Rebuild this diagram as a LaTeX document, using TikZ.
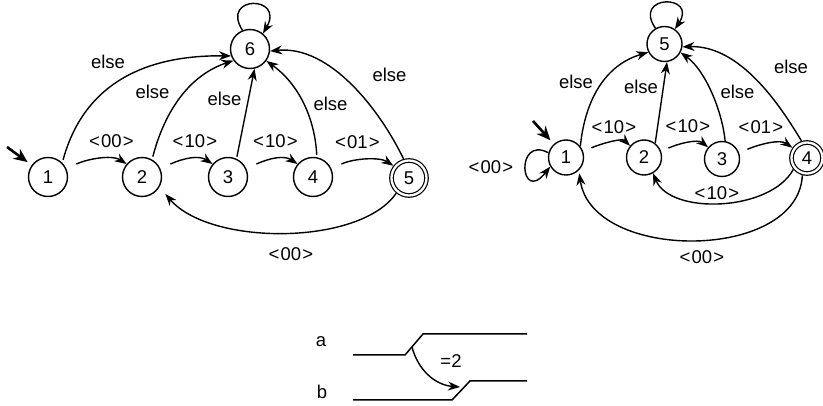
\documentclass[tikz,border=0pt]{standalone}
\usepackage{fontspec}
\setmainfont{Liberation Sans}
\usetikzlibrary{arrows.meta}
\begin{document}
\begin{tikzpicture}[x=1pt,y=-1pt,
  txt/.style={font=\fontsize{18.5}{20}\selectfont},
  state/.style={circle,draw,line width=1.4pt,minimum size=39pt,inner sep=0pt,txt},
  fstate/.style={state,line width=1.2pt,double,double distance=2.3pt,minimum size=35pt,outer sep=2.4pt},
  rstate/.style={state,minimum size=35pt},
  rfstate/.style={fstate,minimum size=31pt},
  lab/.style={txt,inner sep=0pt},
  arr/.style={line width=1.4pt,-{Stealth[length=12pt,width=9pt]}},
  init/.style={line width=2.6pt,-{Stealth[length=14pt,width=12pt]}},
  wave/.style={line width=1.5pt}
]
\path[use as bounding box,fill=white] (0,0) rectangle (823,406);

% ---------- left automaton ----------
\node[state]  (n1) at (48,177)  {1};
\node[state]  (n2) at (142,177) {2};
\node[state]  (n3) at (228,177) {3};
\node[state]  (n4) at (313,177) {4};
\node[fstate] (n5) at (409,178) {5};
\node[state]  (n6) at (250,49)  {6};

\coordinate (s1) at (7,147);
\draw[init,shorten >=5pt] (s1) -- (n1);

\draw[arr,shorten <=3pt] (n1.45) .. controls (85,80) and (150,55) .. (n6.200);
\draw[arr,shorten <=3pt] (n2.60) .. controls (165,110) and (190,75) .. (n6.215);
\draw[arr,shorten <=2pt] (n3.65) -- (n6.283);
\draw[arr,shorten <=2pt] (n4.79) .. controls (315,120) and (300,85) .. (n6.324);
\draw[arr] (n5.106) .. controls (380,110) and (330,45) .. (n6.354);
\draw[arr] (n6.112) .. controls (220,-5) and (285,-5) .. (n6.50);

\draw[arr,shorten <=11pt] (n1.25) .. controls (90,158) and (113,155) .. (n2.140);
\draw[arr,shorten <=11pt] (n2.25) .. controls (184,158) and (199,155) .. (n3.140);
\draw[arr,shorten <=11pt] (n3.25) .. controls (270,158) and (284,155) .. (n4.140);
\draw[arr,shorten <=11pt] (n4.25) .. controls (355,158) and (380,157) .. (n5.142);
\draw[arr,shorten >=9pt] (n5.230) .. controls (360,246) and (210,246) .. (n2.330);

\node[lab] (l1) at (108,62)    {else};
\node[lab] (l2) at (152.5,91.5){else};
\node[lab] (l3) at (224.5,98.5){else};
\node[lab] (l4) at (330.5,103.5){else};
\node[lab] (l5) at (389.5,75)  {else};
\node[lab] (l6) at (111.5,141) {<\kern1.2pt 00\kern1.2pt>};
\node[lab] (l7) at (195,141)   {<\kern1.2pt 10\kern1.2pt>};
\node[lab] (l8) at (275.5,141) {<\kern1.2pt 10\kern1.2pt>};
\node[lab] (l9) at (357.5,142.5){<\kern1.2pt 01\kern1.2pt>};
\node[lab] (l10) at (291,254)  {<\kern1.2pt 00\kern1.2pt>};

% ---------- right automaton ----------
\node[rstate]  (m1) at (566,157.5) {1};
\node[rstate]  (m2) at (644,157.5) {2};
\node[rstate]  (m3) at (722,159)   {3};
\node[rfstate] (m4) at (807,158)   {4};
\node[rstate]  (m5) at (664.5,44)  {5};

\coordinate (s2) at (533,121);
\draw[init,shorten >=5pt] (s2) -- (m1);

\draw[arr] (m1.38) .. controls (585,100) and (605,65) .. (m5.207);
\draw[arr] (m2.52) -- (m5.278);
\draw[arr] (m3.80) .. controls (722,110) and (705,70) .. (m5.332);
\draw[arr] (m4.108) .. controls (780,105) and (740,45) .. (m5.351);
\draw[arr] (m5.120) .. controls (632,-6) and (698,-6) .. (m5.55);
\draw[arr] (m1.165) .. controls (515,135) and (520,205) .. (m1.210);

\draw[arr,shorten <=9pt] (m1.20) .. controls (603,143) and (622,138) .. (m2.140);
\draw[arr,shorten <=8pt] (m2.20) .. controls (680,143) and (698,139) .. (m3.140);
\draw[arr,shorten <=9pt] (m3.20) .. controls (760,144) and (780,139) .. (m4.145);
\draw[arr] (m4.220) .. controls (770,212) and (670,215) .. (m2.300);
\draw[arr,shorten >=3pt] (m4.255) .. controls (798,262) and (592,262) .. (m1.315);

\node[lab] (r1) at (576,81.5)  {else};
\node[lab] (r2) at (641,86.5)  {else};
\node[lab] (r3) at (737.5,91.5){else};
\node[lab] (r4) at (791,66.5)  {else};
\node[lab] (r5) at (614,127)   {<\kern1.2pt 10\kern1.2pt>};
\node[lab] (r6) at (688,126)   {<\kern1.2pt 10\kern1.2pt>};
\node[lab] (r7) at (761,127)   {<\kern1.2pt 01\kern1.2pt>};
\node[lab] (r8) at (491,167)   {<\kern1.2pt 00\kern1.2pt>};
\node[lab] (r9) at (717,193)   {<\kern1.2pt 10\kern1.2pt>};
\node[lab] (r10) at (702,257)  {<\kern1.2pt 00\kern1.2pt>};

% ---------- timing diagram ----------
\node[lab] (ta) at (321,342) {a};
\node[lab] (tb) at (322,392) {b};
\draw[wave] (353,355) -- (405,355) -- (423,334) -- (527,334);
\draw[wave] (353,400) -- (452,400) -- (470,381) -- (527,381);
\coordinate (ea) at (412,347);
\coordinate (eb) at (460,387);
\draw[arr] (ea) .. controls (418,370) and (435,385) .. (eb);
\node[lab] (t2) at (451,361) {=2};
\end{tikzpicture}
\end{document}
